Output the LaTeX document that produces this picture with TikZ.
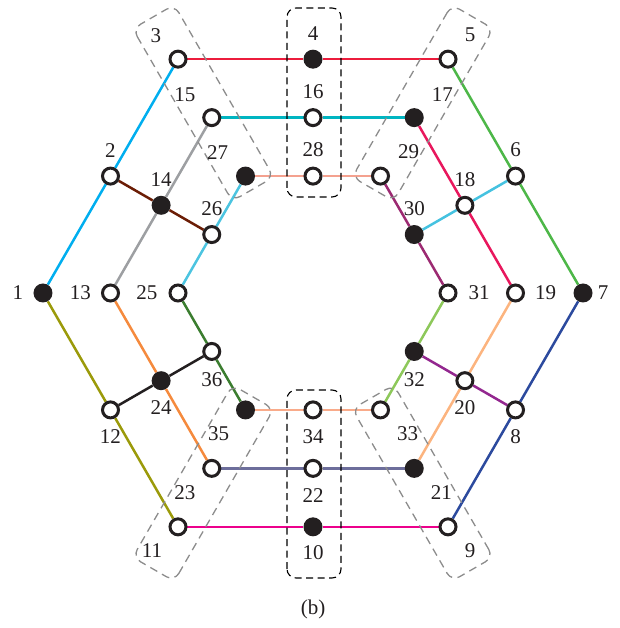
\documentclass[tikz,border=0pt]{standalone}
\usepackage{fontspec}
\setmainfont{Liberation Serif}
\usetikzlibrary{calc,backgrounds}

% edge colours, one per three-vertex path
\definecolor{cA}{HTML}{00AEEF} % 1-2-3
\definecolor{cB}{HTML}{EC1C3C} % 3-4-5
\definecolor{cC}{HTML}{4DB748} % 5-6-7
\definecolor{cD}{HTML}{2C4A9E} % 7-8-9
\definecolor{cE}{HTML}{EC008C} % 9-10-11
\definecolor{cF}{HTML}{9B9A0A} % 11-12-1
\definecolor{cG}{HTML}{9D9FA2} % 13-14-15
\definecolor{cH}{HTML}{00B5C1} % 15-16-17
\definecolor{cI}{HTML}{E8175D} % 17-18-19
\definecolor{cJ}{HTML}{FCB47F} % 19-20-21
\definecolor{cK}{HTML}{6D6E9B} % 21-22-23
\definecolor{cL}{HTML}{F58A3D} % 23-24-13
\definecolor{cM}{HTML}{4CC4E0} % 25-26-27
\definecolor{cN}{HTML}{F4A18F} % 27-28-29
\definecolor{cO}{HTML}{9C2A72} % 29-30-31
\definecolor{cP}{HTML}{8DC85A} % 31-32-33
\definecolor{cQ}{HTML}{F9AB8A} % 33-34-35
\definecolor{cR}{HTML}{3B7D2F} % 35-36-25
\definecolor{cS}{HTML}{6B1D05} % 2-14-26
\definecolor{cT}{HTML}{45C2E0} % 6-18-30
\definecolor{cU}{HTML}{93278F} % 8-20-32
\definecolor{cV}{HTML}{231F20} % 12-24-36
\definecolor{nodeblack}{HTML}{231F20}
\definecolor{boxgray}{HTML}{8C8C8C}

% vertex with its number: \vtx{number}{style}{x}{y}{label dx}{label dy}
\newcommand\vtx[6]{%
  \node[#2] (n#1) at (#3,#4) {};
  \node[lbl] (l#1) at ($(n#1)+(#5,#6)$) {#1};}

\begin{document}
\begin{tikzpicture}[x=1pt,y=1pt,
  open/.style={circle, draw=nodeblack, fill=white, line width=3pt, minimum size=16pt, inner sep=0pt},
  full/.style={circle, fill=nodeblack, minimum size=19pt, inner sep=0pt},
  lbl/.style={font=\fontsize{21}{25}\selectfont, inner sep=0pt, text=nodeblack},
  edge/.style={line width=2.5pt},
  gbox/.style={draw=boxgray, dash pattern=on 8pt off 5.5pt, line width=1.3pt, rounded corners=9pt},
  kbox/.style={draw=black, dash pattern=on 7pt off 4.5pt, line width=1.1pt, rounded corners=9pt}]

\useasboundingbox (-313,-335) rectangle (306,293);

% outer hexagon
\vtx{1}{full}{-270}{0}{-25}{0}
\vtx{2}{open}{-202.5}{116.91}{0}{26}
\vtx{3}{open}{-135}{233.83}{-22}{24}
\vtx{4}{full}{0}{233.83}{0}{26}
\vtx{5}{open}{135}{233.83}{22}{24}
\vtx{6}{open}{202.5}{116.91}{0}{26}
\vtx{7}{full}{270}{0}{20}{0}
\vtx{8}{open}{202.5}{-116.91}{0}{-27}
\vtx{9}{open}{135}{-233.83}{22}{-24}
\vtx{10}{full}{0}{-233.83}{0}{-26}
\vtx{11}{open}{-135}{-233.83}{-26}{-24}
\vtx{12}{open}{-202.5}{-116.91}{0}{-27}

% middle hexagon
\vtx{13}{open}{-202.5}{0}{-30}{0}
\vtx{14}{full}{-151.875}{87.69}{0}{26}
\vtx{15}{open}{-101.25}{175.37}{-27}{23}
\vtx{16}{open}{0}{175.37}{0}{26}
\vtx{17}{full}{101.25}{175.37}{28}{23}
\vtx{18}{open}{151.875}{87.69}{0}{26}
\vtx{19}{open}{202.5}{0}{30}{0}
\vtx{20}{open}{151.875}{-87.69}{0}{-27}
\vtx{21}{full}{101.25}{-175.37}{27}{-24}
\vtx{22}{open}{0}{-175.37}{0}{-27}
\vtx{23}{open}{-101.25}{-175.37}{-27}{-24}
\vtx{24}{full}{-151.875}{-87.69}{0}{-27}

% inner hexagon
\vtx{25}{open}{-135}{0}{-31}{0}
\vtx{26}{open}{-101.25}{58.46}{0}{26}
\vtx{27}{full}{-67.5}{116.91}{-28}{24}
\vtx{28}{open}{0}{116.91}{0}{26}
\vtx{29}{open}{67.5}{116.91}{28}{24}
\vtx{30}{full}{101.25}{58.46}{0}{26}
\vtx{31}{open}{135}{0}{31}{0}
\vtx{32}{full}{101.25}{-58.46}{0}{-28}
\vtx{33}{open}{67.5}{-116.91}{27}{-24}
\vtx{34}{open}{0}{-116.91}{0}{-27}
\vtx{35}{full}{-67.5}{-116.91}{-27}{-24}
\vtx{36}{open}{-101.25}{-58.46}{0}{-28}

\begin{scope}[on background layer]
  % hexagon sides
  \draw[edge, cA] (n1) -- (n2) -- (n3);
  \draw[edge, cB] (n3) -- (n4) -- (n5);
  \draw[edge, cC] (n5) -- (n6) -- (n7);
  \draw[edge, cD] (n7) -- (n8) -- (n9);
  \draw[edge, cE] (n9) -- (n10) -- (n11);
  \draw[edge, cF] (n11) -- (n12) -- (n1);
  \draw[edge, cG] (n13) -- (n14) -- (n15);
  \draw[edge, cH] (n15) -- (n16) -- (n17);
  \draw[edge, cI] (n17) -- (n18) -- (n19);
  \draw[edge, cJ] (n19) -- (n20) -- (n21);
  \draw[edge, cK] (n21) -- (n22) -- (n23);
  \draw[edge, cL] (n23) -- (n24) -- (n13);
  \draw[edge, cM] (n25) -- (n26) -- (n27);
  \draw[edge, cN] (n27) -- (n28) -- (n29);
  \draw[edge, cO] (n29) -- (n30) -- (n31);
  \draw[edge, cP] (n31) -- (n32) -- (n33);
  \draw[edge, cQ] (n33) -- (n34) -- (n35);
  \draw[edge, cR] (n35) -- (n36) -- (n25);
  % spokes
  \draw[edge, cS] (n2) -- (n14) -- (n26);
  \draw[edge, cT] (n6) -- (n18) -- (n30);
  \draw[edge, cU] (n8) -- (n20) -- (n32);
  \draw[edge, cV] (n12) -- (n24) -- (n36);

  % vertical groups
  \draw[kbox] (-26,96) rectangle (28,285);
  \draw[kbox] (-26,-285) rectangle (28,-97);

  % slanted groups
  \draw[gbox, shift={(n15.center)}, rotate=-60]
    (-116.5,-24) -- (82.5,-24) -- (82.5,24) -- (-116.5,24) -- cycle;
  \draw[gbox, shift={(n17.center)}, rotate=-120]
    (-116.5,-24) -- (82.5,-24) -- (82.5,24) -- (-116.5,24) -- cycle;
  \draw[gbox, shift={(n21.center)}, rotate=120]
    (-116.5,-24) -- (82.5,-24) -- (82.5,24) -- (-116.5,24) -- cycle;
  \draw[gbox, shift={(n23.center)}, rotate=60]
    (-116.5,-24) -- (82.5,-24) -- (82.5,24) -- (-116.5,24) -- cycle;
\end{scope}

\node[lbl] (cap) at (0,-316) {(b)};
\end{tikzpicture}
\end{document}
